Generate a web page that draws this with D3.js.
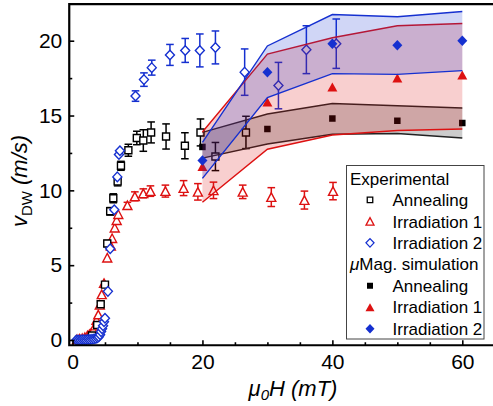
<!DOCTYPE html>
<html>
<head>
<meta charset="utf-8">
<script src="https://cdn.jsdelivr.net/npm/d3@7"></script>
<style>
  html, body { margin: 0; padding: 0; background: #fff; }
  svg { display: block; font-family: "Liberation Sans", Arial, sans-serif; }
</style>
</head>
<body>
<svg id="chart" width="493" height="406"></svg>
<script>
// ---------------- data ----------------
const xMajorTicks = [0, 20, 40, 60];
const xMinorTicks = [5, 10, 15, 25, 30, 35, 45, 50, 55];
const yMajorTicks = [0, 5, 10, 15, 20];
const yMinorTicks = [2.5, 7.5, 12.5, 17.5];

// Experimental: Annealing (open squares)
const expAnnField = [1.0, 2.0, 3.0, 3.8, 4.34, 5.0, 5.35, 5.8, 6.28, 6.95, 7.46, 8.6, 9.9, 10.9, 12.1, 14.4, 17.3, 19.7, 22.0, 26.7];
const expAnnV     = [0.0, 0.05, 0.3, 1.0, 2.39, 3.7, 6.45, 8.6, 9.47, 10.6, 11.64, 12.68, 13.5, 13.33, 13.87, 13.6, 12.98, 13.87, 12.26, 13.87];
const expAnnErr   = [0, 0, 0, 0, 0.15, 0.15, 0.2, 0.25, 0.3, 0.3, 0.3, 0.4, 0.45, 0.72, 0.7, 0.84, 0.87, 0.9, 0.94, 1.08];

// Experimental: Irradiation 1 (open triangles)
const expIrr1Field = [0.7, 1.1, 1.5, 1.9, 2.3, 2.6, 2.85, 3.2, 3.5, 3.7, 3.97, 4.2, 4.5, 4.85, 5.35, 5.9, 6.1, 6.5, 6.8, 7.05, 8.45, 9.6, 10.9, 12.0, 14.3, 17.1, 19.3, 21.7, 26.2, 30.6, 35.7, 40.1];
const expIrr1V     = [0.05, 0.08, 0.12, 0.18, 0.3, 0.38, 0.45, 0.67, 0.96, 1.34, 1.7, 2.35, 3.05, 3.8, 5.5, 6.3, 6.8, 7.5, 8.0, 8.4, 9.0, 9.6, 9.8, 9.95, 9.95, 10.15, 9.9, 10.0, 9.9, 9.55, 9.35, 9.95];
const expIrr1Err   = [0, 0, 0, 0, 0, 0, 0, 0, 0, 0, 0, 0, 0, 0, 0, 0, 0, 0, 0, 0, 0.2, 0.3, 0.3, 0.35, 0.4, 0.5, 0.55, 0.55, 0.45, 0.63, 0.6, 0.58];

// Experimental: Irradiation 2 (open diamonds)
const expIrr2Field = [0.6, 0.9, 1.2, 1.5, 1.8, 2.1, 2.4, 2.7, 3.0, 3.3, 3.6, 3.85, 4.05, 4.25, 4.4, 4.55, 4.7, 4.85, 5.0, 5.45, 5.8, 6.43, 6.9, 7.15, 7.3, 9.7, 11.0, 12.2, 15.0, 17.35, 19.6, 22.0, 26.5, 31.7, 36.0, 40.6];
const expIrr2V     = [0, 0, 0, 0.01, 0.01, 0.02, 0.03, 0.04, 0.05, 0.07, 0.1, 0.15, 0.22, 0.35, 0.56, 0.75, 0.95, 1.22, 1.45, 3.25, 6.1, 8.7, 10.9, 12.4, 12.65, 16.3, 17.4, 18.2, 19.05, 19.35, 19.35, 19.55, 17.9, 17.0, 19.4, 19.8];
const expIrr2Err   = [0, 0, 0, 0, 0, 0, 0, 0, 0, 0, 0, 0, 0, 0, 0, 0, 0, 0, 0, 0, 0, 0, 0, 0, 0, 0.35, 0.45, 0.5, 0.7, 0.8, 1.1, 1.1, 1.55, 1.55, 1.6, 1.65];

// Micromagnetic simulation
const simField = [20, 30, 40, 50, 60];
const simAnn      = [12.9, 14.1, 14.8, 14.65, 14.5];
const simAnnLow   = [12.15, 13.1, 13.75, 13.8, 13.5];
const simAnnHigh  = [13.87, 15.1, 15.8, 15.65, 15.5];
const simIrr1     = [11.6, 15.9, 16.9, 17.5, 17.7];
const simIrr1Low  = [9.2, 12.75, 13.7, 14.0, 14.1];
const simIrr1High = [13.9, 19.1, 20.2, 21.0, 21.15];
const simIrr2     = [12.0, 17.9, 19.8, 19.7, 20.0];
const simIrr2Low  = [10.8, 16.2, 17.8, 17.75, 18.0];
const simIrr2High = [13.2, 19.65, 21.75, 21.6, 21.95];

const legendLabels = ["Annealing", "Irradiation 1", "Irradiation 2"];

// ---------------- styles ----------------
const BLACK = "#000000", RED = "#dd1111", BLUE = "#1530d0";

// ---------------- scales ----------------
const svg = d3.select("#chart");
const x = d3.scaleLinear().domain([0, 60]).range([72.5, 462.3]);
const y = d3.scaleLinear().domain([0, 20]).range([340, 40.7]);

const xLeft = x(-0.5), xRight = x(65);
const yTop = y(22.45), yBottom = y(-0.35);

// marker path generators (centred at 0,0)
function squarePath(s) { const h = s / 2; return `M${-h},${-h}H${h}V${h}H${-h}Z`; }
function trianglePath(w, hgt) { return `M0,${-hgt/2}L${w/2},${hgt/2}L${-w/2},${hgt/2}Z`; }
function diamondPath(w, hgt) { return `M0,${-hgt/2}L${w/2},0L0,${hgt/2}L${-w/2},0Z`; }

const plot = svg.append("g");

function zip(fx, fy, fe) { return fx.map((d, i) => ({ x: d, y: fy[i], e: fe ? fe[i] : 0 })); }

function drawExperimental(data, color, path) {
  const g = plot.append("g");
  const eb = data.filter(d => d.e > 0);
  g.selectAll("line.v").data(eb).join("line")
    .attr("x1", d => x(d.x)).attr("x2", d => x(d.x))
    .attr("y1", d => y(d.y + d.e)).attr("y2", d => y(d.y - d.e))
    .attr("stroke", color).attr("stroke-width", 1.5);
  ["+", "-"].forEach(sg => {
    g.selectAll("line.c" + (sg === "+" ? "p" : "m")).data(eb).join("line")
      .attr("x1", d => x(d.x) - 3.8).attr("x2", d => x(d.x) + 3.8)
      .attr("y1", d => y(sg === "+" ? d.y + d.e : d.y - d.e))
      .attr("y2", d => y(sg === "+" ? d.y + d.e : d.y - d.e))
      .attr("stroke", color).attr("stroke-width", 1.5);
  });
  g.selectAll("path").data(data).join("path")
    .attr("d", path)
    .attr("transform", d => `translate(${x(d.x)},${y(d.y)})`)
    .attr("fill", "#fff").attr("stroke", color).attr("stroke-width", 1.4);
}

drawExperimental(zip(expIrr1Field, expIrr1V, expIrr1Err), RED, trianglePath(9, 8.5));
drawExperimental(zip(expAnnField, expAnnV, expAnnErr), BLACK, squarePath(7));
drawExperimental(zip(expIrr2Field, expIrr2V, expIrr2Err), BLUE, diamondPath(9, 9.5));

function drawSim(vals, low, high, color, path, lineColor) {
  const data = simField.map((f, i) => ({ x: f, v: vals[i], lo: low[i], hi: high[i] }));
  const g = plot.append("g");
  g.append("path").datum(data)
    .attr("d", d3.area().x(d => x(d.x)).y0(d => y(d.lo)).y1(d => y(d.hi)))
    .attr("fill", color).attr("fill-opacity", 0.2).attr("stroke", "none");
  ["lo", "hi"].forEach(k => {
    g.append("path").datum(data)
      .attr("d", d3.line().x(d => x(d.x)).y(d => y(d[k])))
      .attr("fill", "none").attr("stroke", lineColor).attr("stroke-width", 1.4);
  });
  g.selectAll("path.m").data(data).join("path").attr("class", "m")
    .attr("d", path)
    .attr("transform", d => `translate(${x(d.x)},${y(d.v)})`)
    .attr("fill", color).attr("stroke", "none");
}

drawSim(simAnn, simAnnLow, simAnnHigh, BLACK, squarePath(6.5), "#222");
drawSim(simIrr1, simIrr1Low, simIrr1High, RED, trianglePath(10, 9), RED);
drawSim(simIrr2, simIrr2Low, simIrr2High, BLUE, diamondPath(10, 10.5), BLUE);

// ---------------- axes ----------------
const axes = svg.append("g");
axes.append("g").attr("transform", `translate(0,${yBottom})`)
  .call(d3.axisBottom(x).tickValues(xMajorTicks).tickSize(-5).tickPadding(9).tickFormat(d3.format("d")));
axes.append("g").attr("transform", `translate(0,${yBottom})`)
  .call(d3.axisBottom(x).tickValues(xMinorTicks).tickSize(-3).tickFormat(""));
axes.append("g").attr("transform", `translate(${xLeft},0)`)
  .call(d3.axisLeft(y).tickValues(yMajorTicks).tickSize(-5).tickPadding(7).tickFormat(d3.format("d")));
axes.append("g").attr("transform", `translate(${xLeft},0)`)
  .call(d3.axisLeft(y).tickValues(yMinorTicks).tickSize(-3).tickFormat(""));

axes.selectAll(".domain").remove();
axes.selectAll(".tick line").attr("stroke", "#000").attr("stroke-width", 1.6);
axes.selectAll(".tick text").attr("font-size", 21).attr("fill", "#000")
  .attr("font-family", "'Liberation Sans', Arial, sans-serif");

// frame (left, top, bottom)
axes.append("path")
  .attr("d", `M${xRight},${yTop}H${xLeft}V${yBottom}H${xRight}`)
  .attr("fill", "none").attr("stroke", "#000").attr("stroke-width", 2.2);

// axis titles
const yt = svg.append("text")
  .attr("transform", `translate(27,181) rotate(-90)`)
  .attr("text-anchor", "middle").attr("font-size", 22).attr("fill", "#000");
yt.append("tspan").attr("font-style", "italic").text("v");
yt.append("tspan").attr("font-size", 15).attr("dy", 5).text("DW");
yt.append("tspan").attr("font-style", "italic").attr("dy", -5).text(" (m/s)");

const xt = svg.append("text")
  .attr("x", 293).attr("y", 396)
  .attr("text-anchor", "middle").attr("font-size", 22).attr("font-style", "italic").attr("fill", "#000");
xt.append("tspan").text("μ");
xt.append("tspan").attr("font-size", 15).attr("dy", 4).text("0");
xt.append("tspan").attr("dy", -4).text("H (mT)");

// ---------------- legend ----------------
const lg = svg.append("g");
lg.append("rect").attr("x", 346.5).attr("y", 165.5).attr("width", 137.5).attr("height", 173.5)
  .attr("fill", "#fff").attr("stroke", "#444").attr("stroke-width", 1);

const rowY = i => 178.5 + i * 21.45;
const lfs = 17;
lg.append("text").attr("x", 350).attr("y", rowY(0)).attr("dy", "0.36em")
  .attr("font-size", lfs).text("Experimental");
const hdr2 = lg.append("text").attr("x", 350).attr("y", rowY(4)).attr("dy", "0.36em").attr("font-size", lfs);
hdr2.append("tspan").attr("font-style", "italic").text("μ");
hdr2.append("tspan").text("Mag. simulation");

const legColors = [BLACK, RED, BLUE];
const legOpen = [squarePath(5.5), trianglePath(8, 7.5), diamondPath(8, 8.5)];
const legFilled = [squarePath(6), trianglePath(9, 8), diamondPath(9, 9.5)];
legendLabels.forEach((lab, i) => {
  const ry1 = rowY(1 + i), ry2 = rowY(5 + i);
  lg.append("path").attr("d", legOpen[i]).attr("transform", `translate(370,${ry1})`)
    .attr("fill", "#fff").attr("stroke", legColors[i]).attr("stroke-width", 1.3);
  lg.append("text").attr("x", 392.5).attr("y", ry1).attr("dy", "0.36em").attr("font-size", lfs).text(lab);
  lg.append("path").attr("d", legFilled[i]).attr("transform", `translate(370,${ry2})`)
    .attr("fill", legColors[i]);
  lg.append("text").attr("x", 392.5).attr("y", ry2).attr("dy", "0.36em").attr("font-size", lfs).text(lab);
});
</script>
</body>
</html>
